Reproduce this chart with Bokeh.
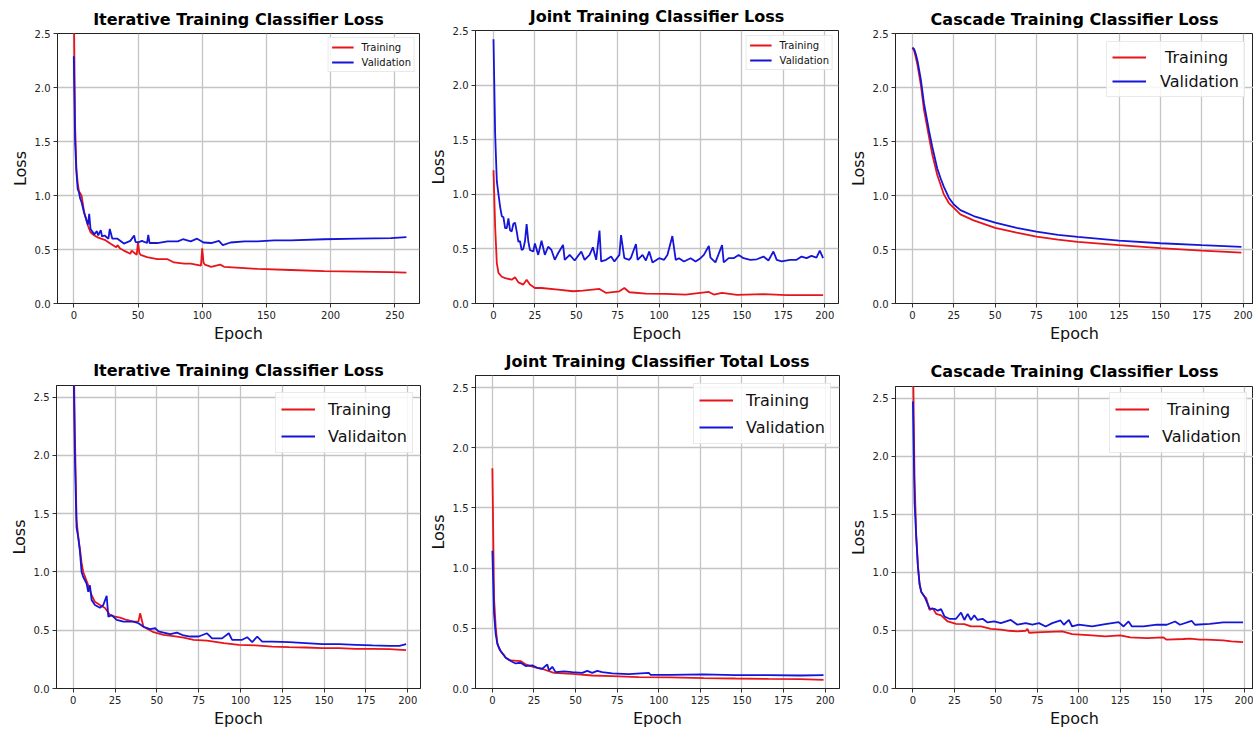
from bokeh.plotting import figure
from bokeh.layouts import column, row
from bokeh.models import Range1d, FixedTicker, PrintfTickFormatter
from bokeh.embed import file_html
from bokeh.resources import INLINE

RED = "#e8141b"
BLUE = "#1515d8"
FONT = "DejaVu Sans"

# ---------------- data ----------------
# Panel 1: Iterative Training Classifier Loss (top)
it1_tr_ep = [0, 1, 2, 3, 4, 6, 8, 11, 13, 16, 19, 24, 29, 33, 34, 36, 39, 44, 45, 47, 49, 50, 51, 52, 57, 65, 73, 78, 86, 91, 99, 100, 101, 102, 107, 114, 117, 130, 143, 169, 195, 221, 247, 259]
it1_tr = [2.80, 1.65, 1.25, 1.12, 1.04, 1.00, 0.85, 0.72, 0.66, 0.63, 0.61, 0.59, 0.55, 0.52, 0.54, 0.51, 0.49, 0.46, 0.49, 0.47, 0.45, 0.57, 0.47, 0.45, 0.43, 0.41, 0.41, 0.38, 0.37, 0.37, 0.35, 0.51, 0.38, 0.36, 0.34, 0.36, 0.34, 0.33, 0.32, 0.31, 0.30, 0.295, 0.29, 0.285]
it1_va_ep = [0, 1, 2, 3, 4, 5, 6, 8, 11, 12, 13, 16, 18, 19, 21, 22, 24, 27, 28, 30, 34, 39, 44, 47, 48, 50, 53, 57, 58, 59, 65, 73, 81, 85, 91, 96, 101, 107, 113, 116, 122, 133, 143, 156, 169, 195, 221, 247, 259]
it1_va = [2.29, 1.50, 1.22, 1.06, 1.03, 0.97, 0.94, 0.84, 0.73, 0.83, 0.69, 0.64, 0.67, 0.63, 0.68, 0.62, 0.63, 0.60, 0.69, 0.60, 0.60, 0.555, 0.58, 0.63, 0.57, 0.565, 0.58, 0.56, 0.635, 0.56, 0.56, 0.575, 0.575, 0.595, 0.575, 0.60, 0.565, 0.56, 0.58, 0.54, 0.565, 0.575, 0.575, 0.585, 0.585, 0.595, 0.60, 0.605, 0.615]

# Panel 2: Joint Training Classifier Loss (top)
jt1_tr_ep = [0, 1, 2, 3, 5, 7, 11, 13, 15, 18, 20, 22, 25, 29, 39, 48, 54, 64, 68, 76, 79, 82, 92, 104, 116, 130, 133, 138, 147, 163, 177, 187, 199]
jt1_tr = [1.22, 0.70, 0.37, 0.28, 0.245, 0.233, 0.218, 0.24, 0.194, 0.173, 0.218, 0.173, 0.142, 0.142, 0.127, 0.112, 0.118, 0.133, 0.097, 0.112, 0.142, 0.103, 0.091, 0.088, 0.082, 0.106, 0.082, 0.097, 0.079, 0.085, 0.076, 0.076, 0.076]
jt1_va_ep = [0, 1, 2, 3, 4, 5, 6, 7, 8, 9, 10, 11, 12, 13, 14, 15, 16, 17, 18, 19, 20, 21, 22, 24, 25, 27, 29, 31, 33, 35, 37, 39, 42, 43, 46, 49, 53, 55, 58, 60, 62, 64, 65, 68, 71, 73, 76, 77, 79, 82, 83, 86, 87, 90, 92, 94, 96, 100, 103, 105, 108, 110, 112, 115, 119, 122, 125, 127, 130, 131, 134, 138, 139, 142, 145, 148, 151, 155, 159, 163, 166, 169, 171, 174, 179, 183, 186, 189, 192, 195, 197, 199]
jt1_va = [2.42, 1.55, 1.12, 1.00, 0.885, 0.80, 0.79, 0.69, 0.69, 0.78, 0.67, 0.66, 0.73, 0.74, 0.66, 0.567, 0.57, 0.49, 0.50, 0.57, 0.727, 0.57, 0.49, 0.476, 0.55, 0.445, 0.575, 0.445, 0.52, 0.49, 0.40, 0.46, 0.536, 0.40, 0.445, 0.394, 0.476, 0.40, 0.445, 0.515, 0.40, 0.667, 0.385, 0.40, 0.43, 0.385, 0.445, 0.627, 0.415, 0.40, 0.42, 0.545, 0.40, 0.445, 0.394, 0.476, 0.376, 0.415, 0.40, 0.445, 0.618, 0.40, 0.415, 0.385, 0.415, 0.385, 0.415, 0.445, 0.527, 0.42, 0.376, 0.536, 0.376, 0.415, 0.415, 0.445, 0.415, 0.40, 0.405, 0.43, 0.394, 0.476, 0.40, 0.385, 0.40, 0.40, 0.43, 0.415, 0.436, 0.42, 0.485, 0.415]

# Panel 3: Cascade Training Classifier Loss (top)
ct1_tr_ep = [0, 1, 2, 3, 5, 7, 10, 12, 15, 17, 19, 22, 25, 29, 37, 50, 63, 75, 88, 100, 125, 150, 175, 199]
ct1_tr = [2.37, 2.34, 2.28, 2.21, 2.03, 1.79, 1.54, 1.38, 1.19, 1.10, 1.01, 0.93, 0.886, 0.825, 0.77, 0.70, 0.656, 0.62, 0.592, 0.57, 0.54, 0.512, 0.49, 0.472]
ct1_va_ep = [0, 1, 2, 3, 5, 7, 10, 12, 15, 17, 19, 22, 25, 29, 37, 50, 63, 75, 88, 100, 125, 150, 175, 199]
ct1_va = [2.37, 2.356, 2.31, 2.25, 2.08, 1.85, 1.60, 1.45, 1.25, 1.16, 1.08, 0.98, 0.917, 0.865, 0.81, 0.748, 0.70, 0.665, 0.635, 0.617, 0.583, 0.558, 0.54, 0.525]

# Panel 4: Iterative Training Classifier Loss (bottom)
it2_tr_ep = [0, 1, 2, 3, 4, 5, 6, 9, 11, 13, 16, 19, 22, 25, 28, 32, 36, 39, 40, 42, 48, 54, 60, 66, 72, 80, 90, 99, 109, 119, 129, 139, 149, 159, 169, 179, 189, 199]
it2_tr = [3.2, 2.2, 1.45, 1.30, 1.20, 1.08, 1.00, 0.886, 0.80, 0.744, 0.716, 0.69, 0.63, 0.616, 0.608, 0.588, 0.574, 0.574, 0.645, 0.53, 0.483, 0.46, 0.45, 0.437, 0.418, 0.41, 0.39, 0.375, 0.37, 0.36, 0.355, 0.352, 0.347, 0.347, 0.34, 0.34, 0.338, 0.33]
it2_va_ep = [0, 1, 2, 3, 4, 5, 6, 8, 9, 10, 11, 13, 16, 18, 20, 21, 23, 26, 30, 33, 36, 39, 42, 46, 49, 51, 54, 58, 62, 66, 70, 75, 80, 83, 89, 93, 95, 101, 104, 107, 110, 113, 119, 129, 139, 149, 159, 169, 179, 189, 195, 199]
it2_va = [3.0, 2.0, 1.38, 1.30, 1.18, 1.00, 0.957, 0.90, 0.83, 0.886, 0.76, 0.716, 0.693, 0.716, 0.795, 0.616, 0.63, 0.588, 0.574, 0.574, 0.574, 0.56, 0.53, 0.51, 0.517, 0.49, 0.48, 0.466, 0.48, 0.455, 0.446, 0.446, 0.474, 0.43, 0.43, 0.474, 0.418, 0.418, 0.44, 0.398, 0.446, 0.403, 0.403, 0.398, 0.39, 0.38, 0.38, 0.375, 0.37, 0.366, 0.366, 0.38]

# Panel 5: Joint Training Classifier Total Loss (bottom)
jt2_tr_ep = [0, 1, 2, 3, 4, 5, 7, 8, 11, 17, 20, 25, 31, 37, 48, 60, 72, 88, 107, 127, 146, 166, 185, 199]
jt2_tr = [1.83, 0.75, 0.51, 0.375, 0.333, 0.31, 0.278, 0.256, 0.233, 0.228, 0.20, 0.178, 0.158, 0.13, 0.122, 0.108, 0.103, 0.094, 0.092, 0.086, 0.083, 0.08, 0.078, 0.072]
jt2_va_ep = [0, 1, 2, 3, 4, 5, 8, 11, 14, 17, 20, 24, 27, 30, 33, 34, 36, 38, 43, 48, 54, 57, 60, 63, 66, 72, 82, 94, 95, 107, 127, 146, 166, 185, 199]
jt2_va = [1.145, 0.62, 0.45, 0.37, 0.34, 0.31, 0.256, 0.228, 0.208, 0.214, 0.186, 0.192, 0.172, 0.164, 0.20, 0.15, 0.18, 0.136, 0.142, 0.136, 0.13, 0.147, 0.13, 0.147, 0.136, 0.125, 0.12, 0.13, 0.114, 0.114, 0.117, 0.111, 0.111, 0.108, 0.111]

# Panel 6: Cascade Training Classifier Loss (bottom)
ct2_tr_ep = [0, 1, 2, 3, 4, 5, 7, 8, 10, 12, 14, 17, 21, 26, 31, 35, 41, 47, 53, 58, 63, 68, 69, 70, 78, 90, 96, 108, 116, 125, 131, 141, 151, 153, 163, 167, 173, 177, 187, 192, 199]
ct2_tr = [2.9, 1.8, 1.32, 1.06, 0.90, 0.83, 0.79, 0.78, 0.677, 0.69, 0.643, 0.63, 0.577, 0.557, 0.554, 0.534, 0.534, 0.514, 0.506, 0.497, 0.491, 0.497, 0.514, 0.48, 0.486, 0.491, 0.469, 0.457, 0.449, 0.457, 0.44, 0.434, 0.44, 0.42, 0.426, 0.429, 0.42, 0.42, 0.414, 0.406, 0.40]
ct2_va_ep = [0, 1, 2, 3, 4, 5, 7, 10, 13, 15, 17, 19, 22, 26, 29, 31, 33, 35, 37, 39, 42, 45, 49, 53, 59, 63, 68, 72, 76, 80, 84, 89, 91, 94, 96, 100, 108, 116, 124, 127, 130, 132, 139, 147, 153, 158, 161, 168, 170, 179, 187, 192, 199]
ct2_va = [2.47, 1.6, 1.3, 1.05, 0.90, 0.834, 0.79, 0.69, 0.686, 0.67, 0.683, 0.62, 0.60, 0.60, 0.654, 0.59, 0.643, 0.59, 0.63, 0.59, 0.60, 0.569, 0.577, 0.563, 0.59, 0.549, 0.563, 0.549, 0.563, 0.534, 0.563, 0.586, 0.549, 0.59, 0.534, 0.549, 0.534, 0.554, 0.571, 0.534, 0.577, 0.534, 0.534, 0.549, 0.549, 0.577, 0.549, 0.583, 0.549, 0.557, 0.569, 0.569, 0.569]

titles = ["Iterative Training Classifier Loss", "Joint Training Classifier Loss",
          "Cascade Training Classifier Loss", "Iterative Training Classifier Loss",
          "Joint Training Classifier Total Loss", "Cascade Training Classifier Loss"]
labels_1 = ["Training", "Validation"]
labels_3 = ["\u00a0Training", "Validation"]
labels_4 = ["Training", "Validaiton"]
labels_5 = ["Training", "Validation"]
labels_6 = ["\u00a0Training", "Validation"]
xticks_260 = [0, 50, 100, 150, 200, 250]
xticks_200 = [0, 25, 50, 75, 100, 125, 150, 175, 200]
yticks = [0.0, 0.5, 1.0, 1.5, 2.0, 2.5]

SMALL_LEG = dict(font="10px", gw=22, ls=8, lh=12, sp=3, pad=3)
BIG_LEG = dict(font="16px", gw=34, ls=13, lh=22, sp=5, pad=5)
MID_LEG = dict(font="16px", gw=34, ls=14, lh=20, sp=4, pad=5)


def panel(title, width, height, borders, xr, yr, xticks, tr, va, labels, leg, margin, tstand):
    l, r, t, b = borders
    p = figure(width=width, height=height, x_range=Range1d(*xr), y_range=Range1d(*yr),
               toolbar_location=None, output_backend="svg", title=title,
               min_border_left=l, min_border_right=r, min_border_top=t, min_border_bottom=b)
    p.background_fill_color = "white"
    p.border_fill_color = "white"
    p.outline_line_color = "#222222"
    p.outline_line_width = 1
    p.title.text_font = FONT
    p.title.text_font_size = "16px"
    p.title.text_font_style = "bold"
    p.title.align = "center"
    p.title.text_color = "black"
    p.title.standoff = tstand

    p.xaxis.ticker = FixedTicker(ticks=xticks)
    p.yaxis.ticker = FixedTicker(ticks=yticks)
    p.yaxis.formatter = PrintfTickFormatter(format="%.1f")
    p.xaxis.formatter = PrintfTickFormatter(format="%d")
    p.xaxis.axis_label = "Epoch"
    p.yaxis.axis_label = "Loss"
    for ax in (p.xaxis[0], p.yaxis[0]):
        ax.major_label_text_font = FONT
        ax.major_label_text_font_size = "10px"
        ax.major_label_text_color = "#222222"
        ax.axis_label_text_font = FONT
        ax.axis_label_text_font_size = "16px"
        ax.axis_label_text_font_style = "normal"
        ax.axis_label_text_color = "#111111"
        ax.major_tick_in = 0
        ax.major_tick_out = 4
        ax.minor_tick_in = 0
        ax.minor_tick_out = 0
        ax.major_tick_line_color = "#333333"
        ax.axis_line_color = "#222222"
        ax.major_label_standoff = 3
        ax.axis_label_standoff = 2
    p.grid.grid_line_color = "#c4c4c4"
    p.grid.grid_line_width = 1.3

    p.line(tr[0], tr[1], line_color=RED, line_width=1.8, legend_label=labels[0])
    p.line(va[0], va[1], line_color=BLUE, line_width=1.8, legend_label=labels[1])

    lg = p.legend[0]
    lg.location = "top_right"
    lg.margin = margin
    lg.label_text_font = FONT
    lg.label_text_font_size = leg["font"]
    lg.label_text_color = "#111111"
    lg.glyph_width = leg["gw"]
    lg.glyph_height = leg["lh"]
    lg.label_height = leg["lh"]
    lg.label_standoff = leg["ls"]
    lg.spacing = leg["sp"]
    lg.padding = leg["pad"]
    lg.border_line_color = "#d4d4d4"
    lg.border_line_width = 1
    lg.background_fill_alpha = 0.85
    return p


# top row: height 345 ; bottom row: height 385 ; columns 425 / 420 / 408
p1 = panel(titles[0], 425, 345, (57, 6, 33, 41), (-12.7, 269.2), (0, 2.5), xticks_260,
           (it1_tr_ep, it1_tr), (it1_va_ep, it1_va), labels_1, SMALL_LEG, 4, 10)
p2 = panel(titles[1], 420, 345, (44, 7, 29, 41), (-10.87, 208.3), (0, 2.5), xticks_200,
           (jt1_tr_ep, jt1_tr), (jt1_va_ep, jt1_va), labels_1, SMALL_LEG, 5, 9)
p3 = panel(titles[2], 408, 345, (42, 0, 33, 41), (-10.27, 206.3), (0, 2.5), xticks_200,
           (ct1_tr_ep, ct1_tr), (ct1_va_ep, ct1_va), labels_3, MID_LEG, 8, 10)
p4 = panel(titles[3], 425, 385, (56, 5, 40, 39), (-9.98, 207.6), (0, 2.6), xticks_200,
           (it2_tr_ep, it2_tr), (it2_va_ep, it2_va), labels_4, BIG_LEG, 7, 12)
p5 = panel(titles[4], 420, 385, (41, 6, 29, 41), (-10.15, 208.6), (0, 2.6), xticks_200,
           (jt2_tr_ep, jt2_tr), (jt2_va_ep, jt2_va), labels_5, BIG_LEG, 8, 9)
p6 = panel(titles[5], 408, 385, (43, 0, 41, 39), (-10.5, 205.3), (0, 2.6), xticks_200,
           (ct2_tr_ep, ct2_tr), (ct2_va_ep, ct2_va), labels_6, BIG_LEG, 6, 12)

# each plot wrapped in its own column so that Bokeh does not align the frames of a row
layout = column(row(column(p1), column(p2), column(p3)),
                row(column(p4), column(p5), column(p6)))
open("out.html", "w").write(file_html(layout, INLINE))
